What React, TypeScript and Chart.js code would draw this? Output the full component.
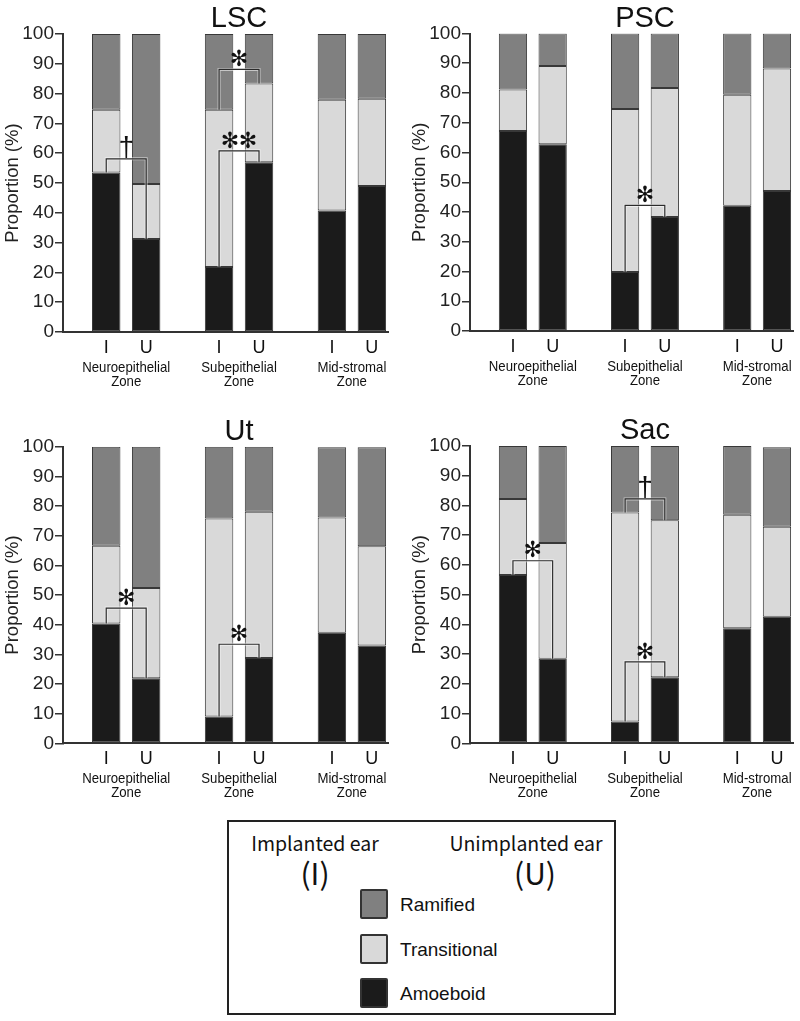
import React, { useEffect, useRef } from 'react';
import { Chart, registerables } from 'chart.js';

Chart.register(...registerables);

// ---------- data ----------
const zoneNames = [['Neuroepithelial', 'Zone'], ['Subepithelial', 'Zone'], ['Mid-stromal', 'Zone']];
const zonePositions = [0, 1, 2];
const earLabels = ['I', 'U'];
const earNames = ['Implanted ear', 'Unimplanted ear'];
const seriesNames = ['Amoeboid', 'Transitional', 'Ramified'];
const seriesColors = ['#1b1b1b', '#d9d9d9', '#808080'];
const yTickStep = 10;

// LSC (values per zone: Neuroepithelial, Subepithelial, Mid-stromal)
const lscAmoeboidI = [53.5, 21.8, 40.8];
const lscTransitionalI = [21.1, 52.8, 37.1];
const lscRamifiedI = [25.4, 25.4, 22.1];
const lscAmoeboidU = [31.2, 57.0, 49.0];
const lscTransitionalU = [18.5, 26.4, 29.3];
const lscRamifiedU = [50.3, 16.6, 21.7];

// PSC
const pscAmoeboidI = [67.2, 19.8, 42.1];
const pscTransitionalI = [14.0, 54.8, 37.3];
const pscRamifiedI = [18.8, 25.4, 20.6];
const pscAmoeboidU = [62.8, 38.3, 47.1];
const pscTransitionalU = [26.3, 43.4, 41.1];
const pscRamifiedU = [10.9, 18.3, 11.8];

// Ut
const utAmoeboidI = [40.4, 9.0, 37.3];
const utTransitionalI = [26.2, 66.8, 38.8];
const utRamifiedI = [33.4, 24.2, 23.7];
const utAmoeboidU = [21.9, 28.8, 33.0];
const utTransitionalU = [30.5, 49.3, 33.4];
const utRamifiedU = [47.6, 21.9, 33.4];

// Sac
const sacAmoeboidI = [56.6, 7.3, 38.7];
const sacTransitionalI = [25.6, 70.3, 38.2];
const sacRamifiedI = [17.8, 22.4, 23.1];
const sacAmoeboidU = [28.4, 22.2, 42.6];
const sacTransitionalU = [39.0, 52.8, 30.2];
const sacRamifiedU = [32.6, 25.0, 26.8];

// significance brackets: zone, bracket level (%), mark, layer (0 = top of Amoeboid, 1 = top of Transitional)
const lscBrackets = [
  { zone: 0, level: 58.1, mark: '†', layer: 0 },
  { zone: 1, level: 88.1, mark: '*', layer: 1 },
  { zone: 1, level: 60.8, mark: '**', layer: 0 },
];
const pscBrackets = [{ zone: 1, level: 42.2, mark: '*', layer: 0 }];
const utBrackets = [
  { zone: 0, level: 45.6, mark: '*', layer: 0 },
  { zone: 1, level: 33.4, mark: '*', layer: 0 },
];
const sacBrackets = [
  { zone: 0, level: 61.4, mark: '*', layer: 0 },
  { zone: 1, level: 82.2, mark: '†', layer: 1 },
  { zone: 1, level: 27.4, mark: '*', layer: 0 },
];

// ---------- layout ----------
const FONT = '"Liberation Sans", Arial, Helvetica, sans-serif';
const SYMBOL_FONT = '"DejaVu Sans", sans-serif';

const panels = [
  {
    title: 'LSC', left: 0, top: 0, axisWidth: 63, padTop: 34, padRight: 12, xAxisHeight: 68, yTitlePad: 2,
    series: [[lscAmoeboidI, lscTransitionalI, lscRamifiedI], [lscAmoeboidU, lscTransitionalU, lscRamifiedU]],
    brackets: lscBrackets,
  },
  {
    title: 'PSC', left: 400, top: 0, axisWidth: 70, padTop: 33.5, padRight: 7, xAxisHeight: 69, yTitlePad: 9,
    series: [[pscAmoeboidI, pscTransitionalI, pscRamifiedI], [pscAmoeboidU, pscTransitionalU, pscRamifiedU]],
    brackets: pscBrackets,
  },
  {
    title: 'Ut', left: 0, top: 400, axisWidth: 63, padTop: 46.7, padRight: 12, xAxisHeight: 56.7, yTitlePad: 2,
    series: [[utAmoeboidI, utTransitionalI, utRamifiedI], [utAmoeboidU, utTransitionalU, utRamifiedU]],
    brackets: utBrackets,
  },
  {
    title: 'Sac', left: 400, top: 400, axisWidth: 70, padTop: 46, padRight: 7, xAxisHeight: 56.7, yTitlePad: 9,
    series: [[sacAmoeboidI, sacTransitionalI, sacRamifiedI], [sacAmoeboidU, sacTransitionalU, sacRamifiedU]],
    brackets: sacBrackets,
  },
];

function makeDecorPlugin(title: string, brackets: any[]) {
  return {
    id: 'panelDecor',
    afterDatasetsDraw(chart: any) {
      const ctx = chart.ctx;
      const yScale = chart.scales.y;
      brackets.forEach((b) => {
        const elI = chart.getDatasetMeta(b.layer).data[b.zone];
        const elU = chart.getDatasetMeta(3 + b.layer).data[b.zone];
        const yL = yScale.getPixelForValue(b.level);
        const path = () => {
          ctx.beginPath();
          ctx.moveTo(elI.x, elI.y);
          ctx.lineTo(elI.x, yL);
          ctx.lineTo(elU.x, yL);
          ctx.lineTo(elU.x, elU.y);
          ctx.stroke();
        };
        ctx.save();
        ctx.lineJoin = 'miter';
        ctx.strokeStyle = 'rgba(255,255,255,0.55)';
        ctx.lineWidth = 3;
        path();
        ctx.strokeStyle = '#2a2a2a';
        ctx.lineWidth = 1.2;
        path();
        const cx = (elI.x + elU.x) / 2;
        ctx.fillStyle = '#111';
        ctx.textAlign = 'center';
        if (b.mark === '†') {
          ctx.font = `28px ${FONT}`;
          ctx.textBaseline = 'alphabetic';
          ctx.fillText('†', cx, yL - 3);
        } else {
          ctx.font = `22px ${SYMBOL_FONT}`;
          ctx.textBaseline = 'middle';
          if (b.mark === '**') {
            ctx.fillText('✻', cx - 9, yL - 9);
            ctx.fillText('✻', cx + 9, yL - 9);
          } else {
            ctx.fillText('✻', cx, yL - 9);
          }
        }
        ctx.restore();
      });
    },
    afterDraw(chart: any) {
      const ctx = chart.ctx;
      const area = chart.chartArea;
      const xScale = chart.scales.x;
      ctx.save();
      ctx.fillStyle = '#111';
      ctx.textAlign = 'center';
      ctx.textBaseline = 'alphabetic';
      // panel title
      ctx.font = `29px ${FONT}`;
      ctx.fillText(title, xScale.getPixelForValue(zonePositions[1]), area.top - 7);
      // ear labels under bars
      ctx.font = `18px ${FONT}`;
      zonePositions.forEach((_, z) => {
        earLabels.forEach((lab, e) => {
          const el = chart.getDatasetMeta(e * 3).data[z];
          ctx.fillText(lab, el.x, area.bottom + 21);
        });
      });
      // zone names (condensed face)
      ctx.font = `15px ${FONT}`;
      zonePositions.forEach((v, z) => {
        const x = xScale.getPixelForValue(v);
        zoneNames[z].forEach((line, i) => {
          ctx.save();
          ctx.translate(x, area.bottom + 40 + i * 14);
          ctx.scale(0.88, 1);
          ctx.fillText(line, 0, 0);
          ctx.restore();
        });
      });
      ctx.restore();
    },
  };
}

function Panel({ cfg }: { cfg: any }) {
  const ref = useRef<HTMLCanvasElement>(null);
  useEffect(() => {
    const datasets: any[] = [];
    cfg.series.forEach((earSeries: number[][], e: number) => {
      earSeries.forEach((values: number[], s: number) => {
        datasets.push({
          label: `${seriesNames[s]} (${earLabels[e]})`,
          stack: earLabels[e],
          data: zonePositions.map((x, i) => ({ x, y: values[i] })),
          backgroundColor: seriesColors[s],
          borderColor: '#383838',
          borderWidth: 1,
          borderSkipped: false,
        });
      });
    });
    const chart = new Chart(ref.current as HTMLCanvasElement, {
      type: 'bar',
      data: { datasets },
      plugins: [makeDecorPlugin(cfg.title, cfg.brackets)],
      options: {
        animation: false,
        responsive: false,
        events: [],
        layout: { padding: { top: cfg.padTop, right: cfg.padRight, bottom: 0, left: 0 } },
        datasets: { bar: { categoryPercentage: 0.708, barPercentage: 0.712 } },
        plugins: { legend: { display: false }, tooltip: { enabled: false }, title: { display: false } },
        scales: {
          x: {
            type: 'linear',
            stacked: true,
            offset: false,
            min: -0.56,
            max: 2.32,
            afterBuildTicks: (s: any) => {
              s.ticks = zonePositions.map((v) => ({ value: v }));
            },
            afterFit: (s: any) => {
              s.height = cfg.xAxisHeight;
            },
            ticks: { display: false },
            grid: { display: false },
            border: { display: true, color: '#333', width: 2 },
          },
          y: {
            stacked: true,
            min: 0,
            max: 100,
            afterFit: (s: any) => {
              s.width = cfg.axisWidth;
            },
            ticks: { stepSize: yTickStep, color: '#222', padding: 1, font: { family: FONT, size: 19 } },
            grid: { drawOnChartArea: false, drawTicks: true, tickLength: 8, color: '#333', lineWidth: 1.5 },
            border: { display: true, color: '#333', width: 2 },
            title: {
              display: true,
              text: 'Proportion (%)',
              color: '#222',
              font: { family: FONT, size: 18.5 },
              padding: { top: cfg.yTitlePad, bottom: 0 },
            },
          },
        },
      } as any,
    });
    return () => chart.destroy();
  }, []);
  return (
    <canvas
      ref={ref}
      width={400}
      height={400}
      style={{ position: 'absolute', left: cfg.left, top: cfg.top, width: 400, height: 400 }}
    />
  );
}

const legendOrder = [2, 1, 0];

export default function App() {
  const cjk = '"Noto Sans CJK JP", "Noto Sans", sans-serif';
  const center = (x: number, y: number, size: number, text: string, family: string) => (
    <div
      style={{
        position: 'absolute',
        left: x,
        top: y,
        transform: 'translate(-50%, -50%)',
        fontSize: size,
        fontFamily: family,
        lineHeight: 1,
        whiteSpace: 'nowrap',
        color: '#111',
      }}
    >
      {text}
    </div>
  );
  return (
    <div style={{ position: 'absolute', left: 0, top: 0, width: 800, height: 1021, background: '#fff', overflow: 'hidden' }}>
      {panels.map((p) => (
        <Panel key={p.title} cfg={p} />
      ))}
      <div
        style={{
          position: 'absolute',
          left: 227,
          top: 820,
          width: 389,
          height: 195,
          border: '2px solid #222',
          boxSizing: 'border-box',
        }}
      />
      {center(315, 843, 19.5, earNames[0], cjk)}
      {center(526, 843, 19.5, earNames[1], cjk)}
      {center(315, 872, 30, `(${earLabels[0]})`, cjk)}
      {center(535, 872, 30, `(${earLabels[1]})`, cjk)}
      {legendOrder.map((s, i) => (
        <React.Fragment key={s}>
          <div
            style={{
              position: 'absolute',
              left: 360,
              top: 889 + i * 44.5,
              width: 28,
              height: 30,
              background: seriesColors[s],
              border: '2px solid #333',
              borderRadius: 2,
              boxSizing: 'border-box',
            }}
          />
          <div
            style={{
              position: 'absolute',
              left: 400,
              top: 904 + i * 44.5,
              transform: 'translateY(-50%)',
              fontSize: 19,
              fontFamily: FONT,
              lineHeight: 1,
              color: '#111',
              whiteSpace: 'nowrap',
            }}
          >
            {seriesNames[s]}
          </div>
        </React.Fragment>
      ))}
    </div>
  );
}
